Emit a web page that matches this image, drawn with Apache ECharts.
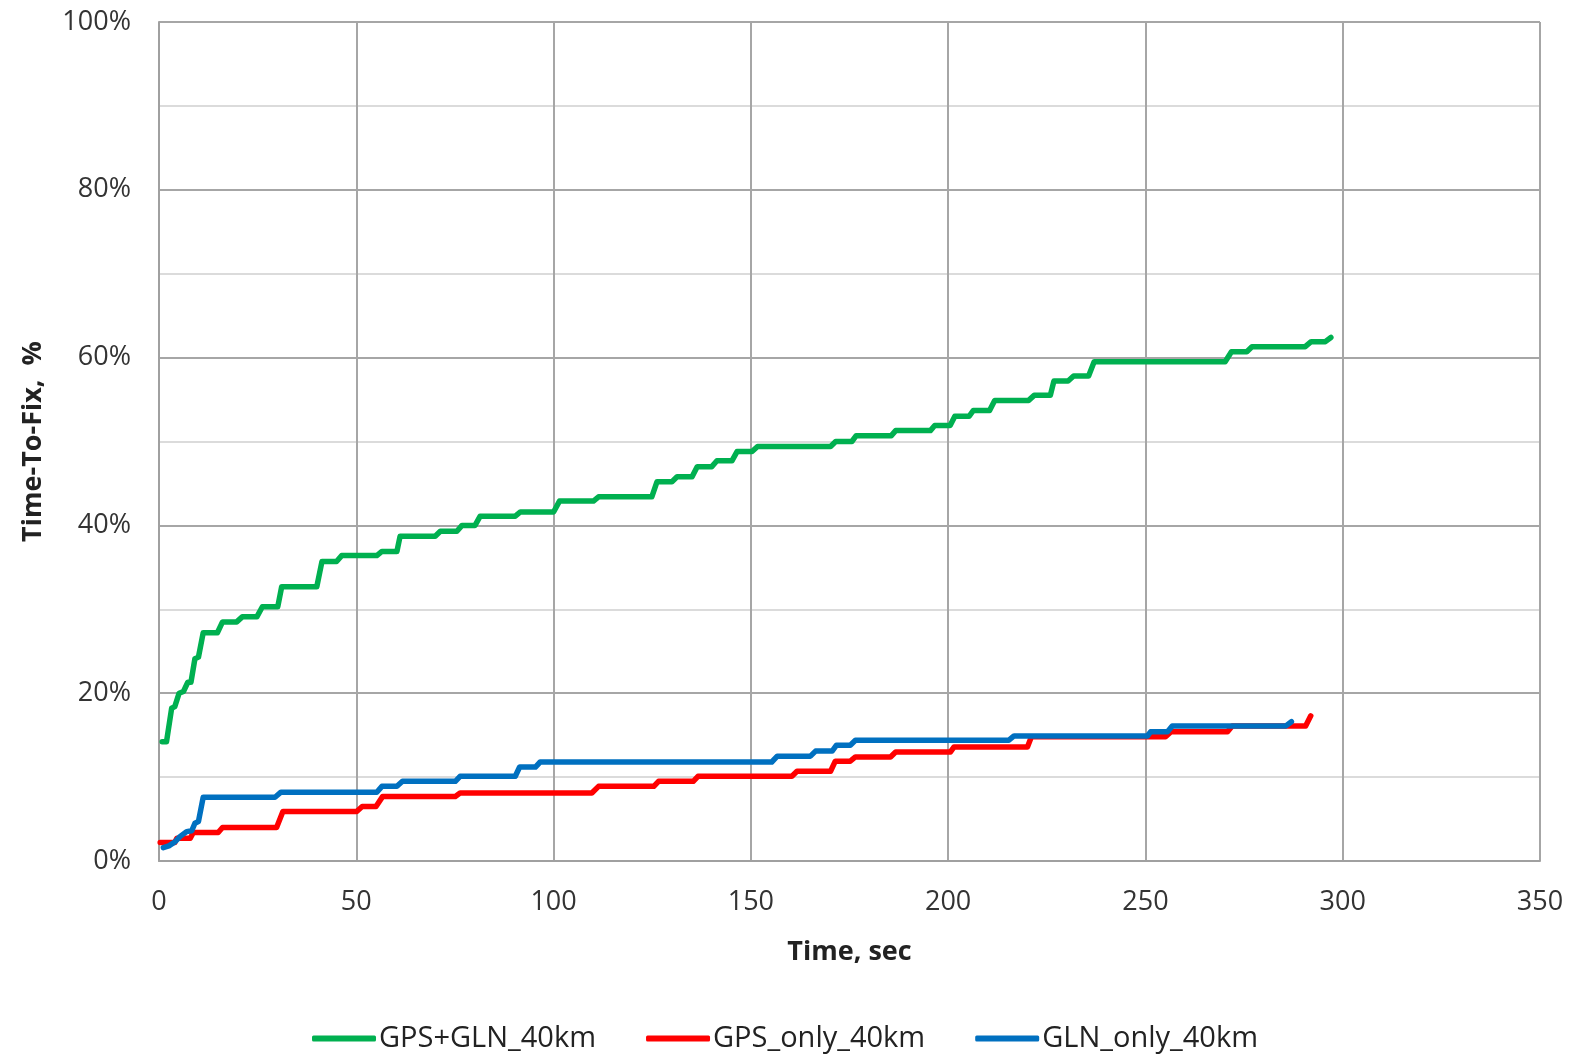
<!DOCTYPE html>
<html>
<head>
<meta charset="utf-8">
<script src="https://cdn.jsdelivr.net/npm/echarts@6/dist/echarts.min.js"></script>
<style>
  html, body { margin: 0; padding: 0; background: #fff; }
  #chart { width: 1570px; height: 1058px; }
</style>
</head>
<body>
<div id="chart"></div>
<script>
  // 数据: time (sec) and cumulative fix share (%)
  var gpsGlnTime = [0.8, 1.9, 3.2, 4, 5.1, 6.2, 7.3, 8.1, 9.1, 10, 11.2, 14.8, 16.1, 19.7, 21.1, 24.8, 26.2, 30.1, 31.1, 40,
    41.3, 45, 46.3, 55.2, 56.5, 60.3, 61.1, 70, 71.3, 75.5, 76.8, 80.1, 81.4, 90.3, 91.6, 100, 101.5, 110.1, 111.4, 124.9,
    126.2, 130, 131.3, 135.1, 136.4, 140.1, 141.4, 145.2, 146.5, 150.3, 151.7, 170.2, 171.5, 175.6, 176.7, 185.6, 186.7, 195.5,
    196.6, 200.5, 201.7, 205.3, 206.4, 210.5, 211.8, 220.4, 221.8, 225.9, 226.8, 230.4, 231.8, 235.6, 237, 270.2, 271.8, 275.7,
    277, 290.5, 292, 295.6, 297]
  var gpsGlnPct = [14.2, 14.2, 18.2, 18.4, 20, 20.2, 21.3, 21.3, 24.1, 24.3, 27.2, 27.2, 28.5, 28.5, 29.1, 29.1, 30.3, 30.3, 32.7, 32.7,
    35.7, 35.7, 36.4, 36.4, 36.9, 36.9, 38.7, 38.7, 39.3, 39.3, 40, 40, 41.1, 41.1, 41.6, 41.6, 42.9, 42.9, 43.4, 43.4,
    45.2, 45.2, 45.8, 45.8, 47, 47, 47.7, 47.7, 48.8, 48.8, 49.4, 49.4, 50, 50, 50.7, 50.7, 51.3, 51.3,
    51.9, 51.9, 53, 53, 53.7, 53.7, 54.9, 54.9, 55.5, 55.5, 57.2, 57.2, 57.8, 57.8, 59.5, 59.5, 60.7, 60.7,
    61.3, 61.3, 61.9, 61.9, 62.4]

  var gpsOnlyTime = [0.3, 4, 4.5, 7.9, 8.7, 15, 16.1, 29.8, 31.4, 50.1, 51.5, 55, 56.7, 75.1, 76.3, 109.7, 111.4, 125.4, 126.6, 135.4,
    136.6, 160.4, 161.7, 170.2, 171.4, 175.2, 176.5, 185.4, 186.7, 200.6, 201.5, 220.1, 221.1, 255.1, 256.5, 270.8, 272, 290.6, 291.9]
  var gpsOnlyPct = [2.2, 2.2, 2.7, 2.7, 3.4, 3.4, 4, 4, 5.9, 5.9, 6.5, 6.5, 7.7, 7.7, 8.1, 8.1, 8.9, 8.9, 9.5, 9.5,
    10.1, 10.1, 10.7, 10.7, 11.9, 11.9, 12.4, 12.4, 13, 13, 13.6, 13.6, 14.8, 14.8, 15.4, 15.4, 16.1, 16.1, 17.3]

  var glnOnlyTime = [1.1, 2.5, 4.1, 5.3, 7, 8.3, 9.1, 10, 11.2, 29.4, 30.9, 55.2, 56.5, 60.3, 61.7, 75.1, 76.3, 90.3, 91.4, 95.4,
    96.6, 155.3, 156.7, 165.1, 166.4, 170.6, 171.7, 175.2, 176.5, 215.4, 216.7, 250.5, 251.3, 255.6, 256.8, 285.6, 287]
  var glnOnlyPct = [1.6, 1.8, 2.3, 2.9, 3.5, 3.6, 4.5, 4.7, 7.6, 7.6, 8.2, 8.2, 8.9, 8.9, 9.5, 9.5, 10.1, 10.1, 11.2, 11.2,
    11.8, 11.8, 12.5, 12.5, 13.1, 13.1, 13.8, 13.8, 14.4, 14.4, 14.9, 14.9, 15.4, 15.4, 16.1, 16.1, 16.6]

  var seriesNames = ['GPS+GLN_40km', 'GPS_only_40km', 'GLN_only_40km']
  var seriesColors = ['#00B050', '#FF0000', '#0070C0']

  function pairs (xs, ys) {
    var res = []
    for (var i = 0; i < xs.length; i++) {
      res.push([xs[i], ys[i]])
    }
    return res
  }

  var allData = [
    pairs(gpsGlnTime, gpsGlnPct),
    pairs(gpsOnlyTime, gpsOnlyPct),
    pairs(glnOnlyTime, glnOnlyPct)
  ]

  var font = '"Open Sans", "Noto Sans", sans-serif'
  var chart = echarts.init(document.getElementById('chart'))

  chart.setOption({
    animation: false,
    grid: { left: 159, right: 30, top: 22, bottom: 197 },
    legend: {
      bottom: 0,
      left: 'center',
      itemWidth: 64,
      itemHeight: 6,
      itemGap: 50,
      icon: 'roundRect',
      textStyle: { fontFamily: '"Liberation Sans Narrow", "Open Sans", sans-serif', fontSize: 29, color: '#222', padding: [0, 0, 0, -2] },
      data: seriesNames
    },
    xAxis: {
      type: 'value',
      min: 0,
      max: 350,
      interval: 50,
      name: 'Time, sec',
      nameLocation: 'middle',
      nameGap: 78,
      nameTextStyle: { fontFamily: font, fontSize: 27, fontWeight: 'bold', color: '#222' },
      axisLine: { lineStyle: { color: '#a0a0a0', width: 2 } },
      axisTick: { show: false },
      axisLabel: { fontFamily: font, fontSize: 27, color: '#333', margin: 28 },
      splitLine: { lineStyle: { color: '#a6a6a6', width: 2 } }
    },
    yAxis: {
      type: 'value',
      min: 0,
      max: 100,
      interval: 20,
      name: 'Time-To-Fix,  %',
      nameLocation: 'middle',
      nameGap: 112,
      nameTextStyle: { fontFamily: font, fontSize: 27, fontWeight: 'bold', color: '#222' },
      axisLine: { show: true, lineStyle: { color: '#a0a0a0', width: 2 } },
      axisTick: { show: false },
      axisLabel: { fontFamily: font, fontSize: 27, color: '#333', margin: 28, formatter: '{value}%' },
      splitLine: { lineStyle: { color: '#a6a6a6', width: 2 } },
      minorTick: { show: false, splitNumber: 2 },
      minorSplitLine: { show: true, lineStyle: { color: '#d0d0d0', width: 1.5 } }
    },
    series: seriesNames.map(function (name, i) {
      return {
        name: name,
        type: 'line',
        data: allData[i],
        showSymbol: false,
        lineStyle: { color: seriesColors[i], width: 5.5, join: 'round', cap: 'round' },
        itemStyle: { color: seriesColors[i] }
      }
    })
  })
</script>
</body>
</html>
